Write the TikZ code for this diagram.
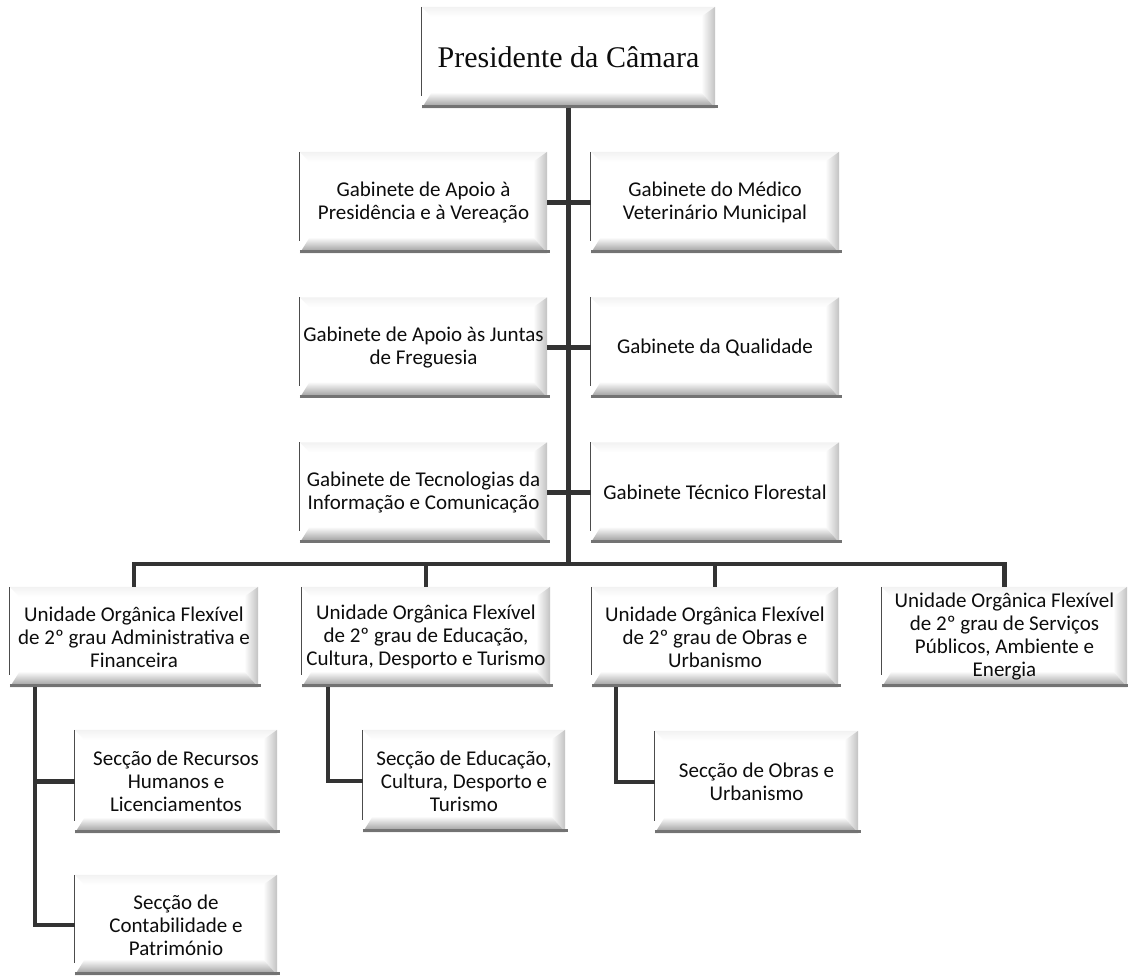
\documentclass[tikz,border=0pt]{standalone}
\usepackage{fontspec}
\newfontfamily\calfont{Carlito}
\newfontfamily\tmsfont{Liberation Serif}
\pgfdeclarelayer{bg}
\pgfsetlayers{bg,main}
\tikzset{
  orgbox/.style={inner sep=0pt, align=center, text=black!95,
    font=\calfont\fontsize{21}{23}\selectfont},
  conn/.style={line width=4.5pt, draw=black!80, line join=miter},
}
\newcommand\bevelbox[1]{%
  \fill[white] (#1.south west) rectangle (#1.north east);
  \shade[top color=black!5, bottom color=white] (#1.north west) -- (#1.north east) -- ([xshift=-12pt,yshift=-10pt]#1.north east) -- ([xshift=10pt,yshift=-10pt]#1.north west) -- cycle;
  \shade[left color=white, right color=black!24] (#1.north east) -- (#1.south east) -- ([xshift=-14pt,yshift=16pt]#1.south east) -- ([xshift=-14pt,yshift=-10pt]#1.north east) -- cycle;
  \shade[top color=white, bottom color=black!42] (#1.south west) -- (#1.south east) -- ([xshift=-14pt,yshift=16pt]#1.south east) -- ([xshift=10pt,yshift=16pt]#1.south west) -- cycle;
  \draw[black!55, line width=2.8pt] ([yshift=1.4pt]#1.south west) -- ([xshift=3pt,yshift=1.4pt]#1.south east);
  \draw[black!70, line width=0.8pt] (#1.north west) -- ([yshift=12pt]#1.south west);
}
\begin{document}
\begin{tikzpicture}[x=1pt, y=-1pt]
\useasboundingbox (0,0) rectangle (1128,978);

% top
\node[orgbox, font=\tmsfont\fontsize{30}{34}\selectfont, minimum width=293pt, minimum height=101pt] (pres) at (568.5,57.5) {Presidente da Câmara};

% gabinetes
\node[orgbox, minimum width=247pt, minimum height=101pt] (g1l) at (423.5,202.5) {Gabinete de Apoio à\\Presidência e à Vereação};
\node[orgbox, minimum width=248pt, minimum height=101pt] (g1r) at (715,202.5) {Gabinete do Médico\\Veterinário Municipal};
\node[orgbox, minimum width=247pt, minimum height=100pt] (g2l) at (423.5,347.5) {Gabinete de Apoio às Juntas\\de Freguesia};
\node[orgbox, minimum width=248pt, minimum height=100pt] (g2r) at (715,347.5) {Gabinete da Qualidade};
\node[orgbox, minimum width=247pt, minimum height=100pt] (g3l) at (423.5,492.5) {Gabinete de Tecnologias da\\Informação e Comunicação};
\node[orgbox, minimum width=248pt, minimum height=100pt] (g3r) at (715,492.5) {Gabinete Técnico Florestal};

% unidades
\node[orgbox, minimum width=248pt, minimum height=100pt] (u1) at (134,637) {Unidade Orgânica Flexível\\de 2º grau Administrativa e\\Financeira};
\node[orgbox, minimum width=248pt, minimum height=100pt] (u2) at (426,637) {Unidade Orgânica Flexível\\de 2º grau de Educação,\\Cultura, Desporto e Turismo};
\node[orgbox, minimum width=246pt, minimum height=100pt] (u3) at (715,637) {Unidade Orgânica Flexível\\de 2º grau de Obras e\\Urbanismo};
\node[orgbox, minimum width=245pt, minimum height=100pt] (u4) at (1004.5,637) {Unidade Orgânica Flexível\\de 2º grau de Serviços\\Públicos, Ambiente e\\Energia};

% seccoes
\node[orgbox, minimum width=202pt, minimum height=103pt] (s1) at (176,781.5) {Secção de Recursos\\Humanos e\\Licenciamentos};
\node[orgbox, minimum width=202pt, minimum height=100pt] (s2) at (176,925) {Secção de\\Contabilidade e\\Património};
\node[orgbox, minimum width=202pt, minimum height=102pt] (s3) at (464,781) {Secção de Educação,\\Cultura, Desporto e\\Turismo};
\node[orgbox, minimum width=203pt, minimum height=102pt] (s4) at (756.5,782) {Secção de Obras e\\Urbanismo};

\begin{pgfonlayer}{bg}
  \foreach \n in {pres,g1l,g1r,g2l,g2r,g3l,g3r,u1,u2,u3,u4,s1,s2,s3,s4} {\bevelbox{\n}}
\end{pgfonlayer}

% connectors
\coordinate (bus) at (568,564);
\draw[conn] (pres.south) -- (pres.south |- bus);
\draw[conn] (g1l.east) -- (g1r.west);
\draw[conn] (g2l.east) -- (g2r.west);
\draw[conn] (g3l.east) -- (g3r.west);
\draw[conn] (u1.north) -- (u1.north |- bus) -- (u4.north |- bus) -- (u4.north);
\draw[conn] (u2.north) -- (u2.north |- bus);
\draw[conn] (u3.north) -- (u3.north |- bus);
\draw[conn] ([xshift=25pt]u1.south west) |- (s1.west);
\draw[conn] ([xshift=25pt]u1.south west) |- (s2.west);
\draw[conn] ([xshift=26pt]u2.south west) |- (s3.west);
\draw[conn] ([xshift=24pt]u3.south west) |- (s4.west);
\end{tikzpicture}
\end{document}
